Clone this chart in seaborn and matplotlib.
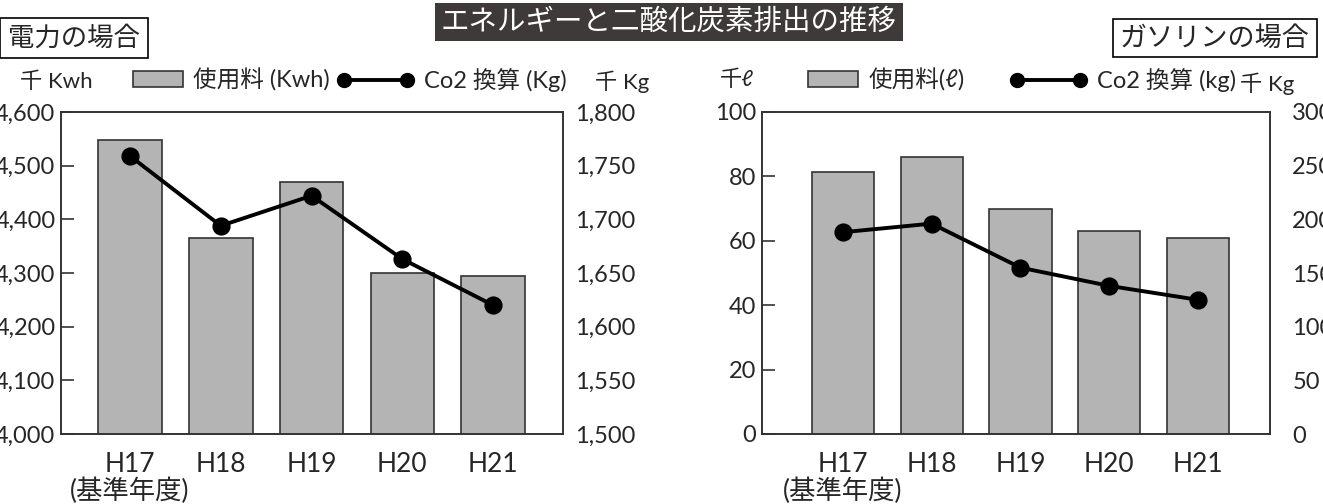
import numpy as np
import pandas as pd
import matplotlib
matplotlib.use("Agg")
import matplotlib.pyplot as plt
import seaborn as sns
from matplotlib.patches import Patch
from matplotlib.lines import Line2D
from matplotlib.ticker import StrMethodFormatter

# data
years = ["H17", "H18", "H19", "H20", "H21"]
year_labels = ["H17\n(基準年度)", "H18", "H19", "H20", "H21"]
elec_use = [4548, 4365, 4470, 4300, 4295]      # 千 Kwh
elec_co2 = [1759, 1694, 1722, 1663, 1620]      # 千 Kg
gas_use = [81.4, 86.0, 69.9, 63.0, 60.9]       # 千 ℓ
gas_co2 = [188, 196, 155, 138, 125]            # 千 Kg

sns.set_style("white")
plt.rcParams["font.family"] = ["Lato", "Noto Sans CJK JP", "DejaVu Sans"]

BAR = "#b4b4b4"
EDGE = "#333333"
FS = 17

fig = plt.figure(figsize=(13.23, 5.04), dpi=100)
W, H = 1323, 504


def px(x0, x1, y0, y1):
    return [x0 / W, 1 - y1 / H, (x1 - x0) / W, (y1 - y0) / H]


def panel(rect, use, co2, ylim, y2lim, yticks, y2ticks, fmt, xlim, rpad):
    ax = fig.add_axes(rect)
    df = pd.DataFrame({"year": years, "use": use, "co2": co2})
    sns.barplot(data=df, x="year", y="use", color=BAR, edgecolor=EDGE,
                linewidth=1.2, width=0.7, saturation=1, ax=ax)
    ax2 = ax.twinx()
    sns.pointplot(data=df, x="year", y="co2", color="black", markers="o",
                  errorbar=None, markersize=11, linewidth=2.8, ax=ax2)
    ax.set_ylim(*ylim)
    ax2.set_ylim(*y2lim)
    ax.set_yticks(yticks)
    ax2.set_yticks(y2ticks)
    ax.yaxis.set_major_formatter(StrMethodFormatter(fmt))
    ax2.yaxis.set_major_formatter(StrMethodFormatter(fmt))
    ax.set_xlim(*xlim)
    ax.set_xticks(range(len(years)))
    ax.set_xticklabels(year_labels, fontsize=FS + 2, linespacing=1.0)
    ax.set(xlabel="", ylabel="")
    ax2.set(xlabel="", ylabel="")
    ax.tick_params(axis="y", direction="in", length=9, width=1.2, color=EDGE,
                   labelsize=FS, pad=4, left=True)
    ax.tick_params(axis="x", length=0, pad=13)
    ax2.tick_params(axis="y", length=0, labelsize=FS, pad=rpad)
    for a in (ax, ax2):
        for s in a.spines.values():
            s.set_color(EDGE)
            s.set_linewidth(1.2)
    return ax, ax2


axL, axL2 = panel(px(61, 563, 112, 434), elec_use, elec_co2,
                  (4000, 4600), (1500, 1800),
                  np.arange(4000, 4601, 100), np.arange(1500, 1801, 50),
                  "{x:,.0f}", (-0.76, 4.77), 9)
axR, axR2 = panel(px(762, 1270, 112, 434), gas_use, gas_co2,
                  (0, 100), (0, 300),
                  np.arange(0, 101, 20), np.arange(0, 301, 50),
                  "{x:.0f}", (-0.91, 4.81), 16)

# title and panel labels
fig.text(669 / W, 1 - 22 / H, "エネルギーと二酸化炭素排出の推移", color="white",
         fontsize=20.5, ha="center", va="center",
         bbox=dict(boxstyle="square,pad=0.2", facecolor="#3d3a39", edgecolor="none"))
fig.text(74 / W, 1 - 38 / H, "電力の場合", fontsize=19, ha="center", va="center",
         bbox=dict(boxstyle="square,pad=0.3", facecolor="white", edgecolor="black", linewidth=1.2))
fig.text(1215 / W, 1 - 38 / H, "ガソリンの場合", fontsize=19.5, ha="center", va="center",
         bbox=dict(boxstyle="square,pad=0.25", facecolor="white", edgecolor="black", linewidth=1.2))

# unit labels
fig.text(20 / W, 1 - 82 / H, "千 Kwh", fontsize=FS - 1, va="center")
fig.text(595 / W, 1 - 82 / H, "千 Kg", fontsize=FS - 1, va="center")
fig.text(720 / W, 1 - 80 / H, "千ℓ", fontsize=FS - 1, va="center")
fig.text(1240 / W, 1 - 84 / H, "千 Kg", fontsize=FS - 1, va="center")

# legends
bar_h = Patch(facecolor=BAR, edgecolor=EDGE, linewidth=1.2)
line_h = Line2D([], [], color="black", marker="o", markersize=10, linewidth=2.8)


def legend(ax, handle, label, x, hl):
    lg = ax.legend([handle], [label], loc="center left", frameon=False,
                   bbox_to_anchor=(x / W, 1 - 80 / H), bbox_transform=fig.transFigure,
                   borderpad=0, borderaxespad=0, handlelength=hl, handleheight=0.65,
                   handletextpad=0.45, numpoints=2, fontsize=FS)
    return lg


legend(axL, bar_h, "使用料 (Kwh)", 133, 2.1)
legend(axL2, line_h, "Co2 換算 (Kg)", 337, 3.25)
legend(axR, bar_h, "使用料(ℓ)", 808, 2.1)
legend(axR2, line_h, "Co2 換算 (kg)", 1010, 3.25)

fig.savefig("out.png", dpi=100)
